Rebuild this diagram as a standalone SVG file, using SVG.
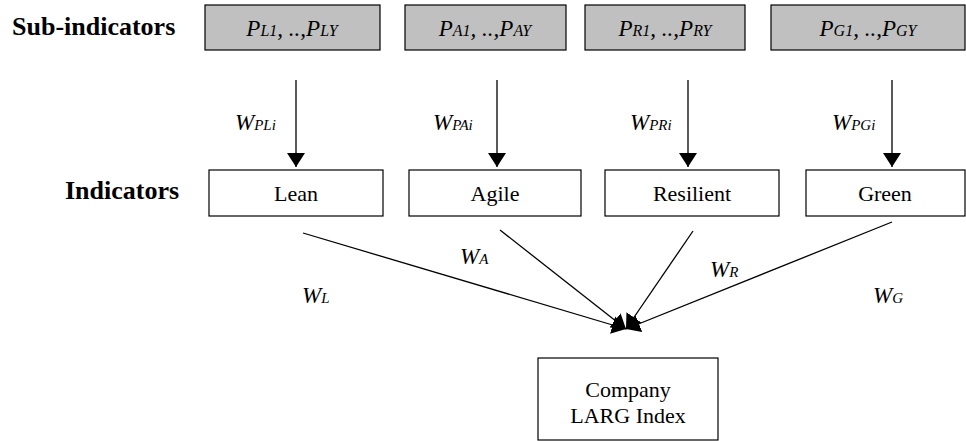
<svg xmlns="http://www.w3.org/2000/svg" width="966" height="441" viewBox="0 0 966 441">
<defs>
<marker id="ah" viewBox="0 0 14 18" refX="14" refY="9" markerWidth="14" markerHeight="18" markerUnits="userSpaceOnUse" orient="auto">
<path d="M0,0 L14,9 L0,18 Z" fill="#000"/>
</marker>
</defs>
<rect width="966" height="441" fill="#fff"/>
<text font-family="Liberation Serif, Tinos, Times New Roman, Nimbus Roman, serif" font-weight="bold" font-size="26" x="12" y="35">Sub-indicators</text>
<text font-family="Liberation Serif, Tinos, Times New Roman, Nimbus Roman, serif" font-weight="bold" font-size="26" x="65" y="199">Indicators</text>
<g id="subL"><rect x="205" y="5" width="175" height="45" fill="#c0c0c0" stroke="#000" stroke-width="1.2"/><text font-family="Liberation Serif, Tinos, Times New Roman, Nimbus Roman, serif" font-style="italic" font-size="23" x="292" y="36" text-anchor="middle">P<tspan font-size="16">L1</tspan>, ..,P<tspan font-size="16">LY</tspan></text></g>
<g id="subA"><rect x="405" y="5" width="161" height="45" fill="#c0c0c0" stroke="#000" stroke-width="1.2"/><text font-family="Liberation Serif, Tinos, Times New Roman, Nimbus Roman, serif" font-style="italic" font-size="23" x="485" y="36" text-anchor="middle">P<tspan font-size="16">A1</tspan>, ..,P<tspan font-size="16">AY</tspan></text></g>
<g id="subR"><rect x="585" y="5" width="160" height="45" fill="#c0c0c0" stroke="#000" stroke-width="1.2"/><text font-family="Liberation Serif, Tinos, Times New Roman, Nimbus Roman, serif" font-style="italic" font-size="23" x="665" y="36" text-anchor="middle">P<tspan font-size="16">R1</tspan>, ..,P<tspan font-size="16">RY</tspan></text></g>
<g id="subG"><rect x="771" y="5" width="194" height="45" fill="#c0c0c0" stroke="#000" stroke-width="1.2"/><text font-family="Liberation Serif, Tinos, Times New Roman, Nimbus Roman, serif" font-style="italic" font-size="23" x="868" y="36" text-anchor="middle">P<tspan font-size="16">G1</tspan>, ..,P<tspan font-size="16">GY</tspan></text></g>
<g id="lean"><rect x="209" y="170" width="174" height="46" fill="#fff" stroke="#000" stroke-width="1.2"/><text font-family="Liberation Serif, Tinos, Times New Roman, Nimbus Roman, serif" font-size="22" text-anchor="middle" x="296" y="201">Lean</text></g>
<g id="agile"><rect x="409" y="170" width="172" height="46" fill="#fff" stroke="#000" stroke-width="1.2"/><text font-family="Liberation Serif, Tinos, Times New Roman, Nimbus Roman, serif" font-size="22" text-anchor="middle" x="495" y="201">Agile</text></g>
<g id="resilient"><rect x="605" y="170" width="174" height="46" fill="#fff" stroke="#000" stroke-width="1.2"/><text font-family="Liberation Serif, Tinos, Times New Roman, Nimbus Roman, serif" font-size="22" text-anchor="middle" x="692" y="201">Resilient</text></g>
<g id="green"><rect x="806" y="170" width="159" height="46" fill="#fff" stroke="#000" stroke-width="1.2"/><text font-family="Liberation Serif, Tinos, Times New Roman, Nimbus Roman, serif" font-size="22" text-anchor="middle" x="885" y="201">Green</text></g>
<g id="index"><rect x="538" y="358" width="180" height="82" fill="#fff" stroke="#000" stroke-width="1.2"/><text font-family="Liberation Serif, Tinos, Times New Roman, Nimbus Roman, serif" font-size="22" text-anchor="middle" x="628" y="397">Company</text><text font-family="Liberation Serif, Tinos, Times New Roman, Nimbus Roman, serif" font-size="22" text-anchor="middle" x="628" y="423">LARG Index</text></g>
<g id="connectors" stroke="#000" stroke-width="1.3">
<line x1="296" y1="80" x2="296" y2="167" marker-end="url(#ah)"/>
<line x1="497" y1="80" x2="497" y2="167" marker-end="url(#ah)"/>
<line x1="688" y1="80" x2="688" y2="167" marker-end="url(#ah)"/>
<line x1="892" y1="80" x2="892" y2="167" marker-end="url(#ah)"/>
<line x1="303" y1="233" x2="626" y2="329" marker-end="url(#ah)"/>
<line x1="500" y1="230" x2="626" y2="329" marker-end="url(#ah)"/>
<line x1="693" y1="231" x2="626" y2="329" marker-end="url(#ah)"/>
<line x1="892" y1="222" x2="626" y2="329" marker-end="url(#ah)"/>
</g>
<g id="weights">
<text font-family="Liberation Serif, Tinos, Times New Roman, Nimbus Roman, serif" font-style="italic" font-size="23" x="235" y="130">W<tspan font-size="15">PLi</tspan></text>
<text font-family="Liberation Serif, Tinos, Times New Roman, Nimbus Roman, serif" font-style="italic" font-size="23" x="433" y="130">W<tspan font-size="15">PAi</tspan></text>
<text font-family="Liberation Serif, Tinos, Times New Roman, Nimbus Roman, serif" font-style="italic" font-size="23" x="630" y="130">W<tspan font-size="15">PRi</tspan></text>
<text font-family="Liberation Serif, Tinos, Times New Roman, Nimbus Roman, serif" font-style="italic" font-size="23" x="832" y="130">W<tspan font-size="15">PGi</tspan></text>
<text font-family="Liberation Serif, Tinos, Times New Roman, Nimbus Roman, serif" font-style="italic" font-size="23" x="302" y="303">W<tspan font-size="15">L</tspan></text>
<text font-family="Liberation Serif, Tinos, Times New Roman, Nimbus Roman, serif" font-style="italic" font-size="23" x="460" y="264">W<tspan font-size="15">A</tspan></text>
<text font-family="Liberation Serif, Tinos, Times New Roman, Nimbus Roman, serif" font-style="italic" font-size="23" x="710" y="277">W<tspan font-size="15">R</tspan></text>
<text font-family="Liberation Serif, Tinos, Times New Roman, Nimbus Roman, serif" font-style="italic" font-size="23" x="873" y="303">W<tspan font-size="15">G</tspan></text>
</g>
</svg>
